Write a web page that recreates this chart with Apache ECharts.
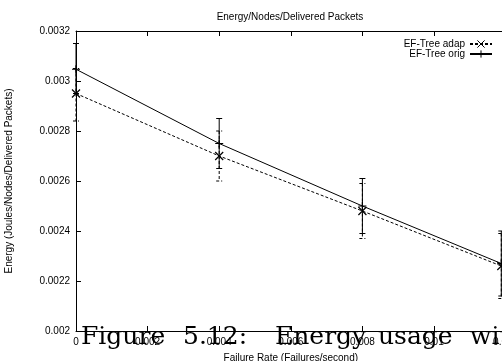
<!DOCTYPE html>
<html>
<head>
<meta charset="utf-8">
<script src="https://cdn.jsdelivr.net/npm/echarts@6/dist/echarts.min.js"></script>
<style>
  html, body { margin: 0; padding: 0; background: #fff; }
  #chart { width: 502px; height: 361px; }
</style>
</head>
<body>
<div id="chart"></div>
<script>
// Failure rates (failures/second) at which the runs were made
const failureRate = [0, 0.004, 0.008, 0.01188];

// EF-Tree adaptive: mean energy and error-bar bounds
const adapEnergy = [0.00295, 0.0027, 0.00248, 0.00226];
const adapLow    = [0.00284, 0.0026, 0.00237, 0.00213];
const adapHigh   = [0.00305, 0.0028, 0.00259, 0.00239];

// EF-Tree original: mean energy and error-bar bounds
const origEnergy = [0.003047, 0.00275, 0.0025, 0.00227];
const origLow    = [0.00295, 0.00265, 0.00239, 0.00214];
const origHigh   = [0.00315, 0.00285, 0.00261, 0.0024];

// Axis ticks
const xTicks = [0, 0.002, 0.004, 0.006, 0.008, 0.01, 0.012];
const yTicks = [0.002, 0.0022, 0.0024, 0.0026, 0.0028, 0.003, 0.0032];

const seriesNames = ['EF-Tree adap', 'EF-Tree orig'];
const chartTitle = 'Energy/Nodes/Delivered Packets';
const xTitle = 'Failure Rate (Failures/second)';
const yTitle = 'Energy (Joules/Nodes/Delivered Packets)';
const captionWords = ['Figure', '5.12:', 'Energy', 'usage', 'wit'];
const captionLefts = [81, 183, 275, 378, 470];

const SANS = '"Liberation Sans", Arial, sans-serif';
const CROSS = 'path://M0,0L10,10M10,0L0,10';
const PLUS = 'path://M5,0L5,10M0,5L10,5';

function fmt(v) { return String(parseFloat(v.toFixed(5))); }

// Vertical error bar with short caps at both ends
function errorBars(dashed) {
  return function (params, api) {
    const x = api.value(0);
    const top = api.coord([x, api.value(2)]);
    const bot = api.coord([x, api.value(1)]);
    const style = { stroke: '#000', lineWidth: 1, lineDash: dashed ? [3, 2] : null };
    const cap = 3;
    return {
      type: 'group',
      children: [
        { type: 'line', shape: { x1: top[0], y1: top[1], x2: bot[0], y2: bot[1] }, style },
        { type: 'line', shape: { x1: top[0] - cap, y1: top[1], x2: top[0] + cap, y2: top[1] }, style },
        { type: 'line', shape: { x1: bot[0] - cap, y1: bot[1], x2: bot[0] + cap, y2: bot[1] }, style }
      ]
    };
  };
}

const chart = echarts.init(document.getElementById('chart'), null, { renderer: 'canvas' });

const axisCommon = {
  type: 'value',
  splitLine: { show: false },
  axisLine: { show: true, onZero: false, lineStyle: { color: '#000', width: 1 } },
  axisTick: { show: true, inside: true, length: 5, lineStyle: { color: '#000' } }
};

const option = {
  animation: false,
  backgroundColor: '#fff',
  grid: { left: 76, top: 31, right: -3.6, bottom: 30, containLabel: false, outerBoundsMode: 'none' },
  xAxis: [
    Object.assign({}, axisCommon, {
      min: xTicks[0], max: xTicks[xTicks.length - 1], interval: xTicks[1] - xTicks[0],
      position: 'bottom',
      name: xTitle, nameLocation: 'middle', nameGap: 22,
      nameTextStyle: { fontFamily: SANS, fontSize: 10, color: '#000' },
      axisLabel: { fontFamily: SANS, fontSize: 10, color: '#000', margin: 6, formatter: fmt }
    }),
    Object.assign({}, axisCommon, {
      min: xTicks[0], max: xTicks[xTicks.length - 1], interval: xTicks[1] - xTicks[0],
      position: 'top',
      axisLabel: { show: false }
    })
  ],
  yAxis: [
    Object.assign({}, axisCommon, {
      min: yTicks[0], max: yTicks[yTicks.length - 1], interval: yTicks[1] - yTicks[0],
      position: 'left',
      name: yTitle, nameLocation: 'middle', nameGap: 62,
      nameTextStyle: { fontFamily: SANS, fontSize: 10, color: '#000' },
      axisLabel: { fontFamily: SANS, fontSize: 10, color: '#000', margin: 6, formatter: fmt }
    })
  ],
  legend: {
    orient: 'vertical',
    right: 9,
    top: 39,
    align: 'right',
    itemWidth: 22,
    itemHeight: 9,
    itemGap: 0,
    padding: 0,
    textStyle: { fontFamily: SANS, fontSize: 10, color: '#000', lineHeight: 9 },
    itemStyle: { borderWidth: 1 },
    data: seriesNames
  },
  graphic: [
    {
      type: 'text', x: 290, y: 17, z: 10,
      style: { text: chartTitle, font: '10px ' + SANS, fill: '#000',
               align: 'center', verticalAlign: 'middle', textAlign: 'center', textVerticalAlign: 'middle' }
    }
  ].concat(captionWords.map(function (w, i) {
    return {
      type: 'text', x: captionLefts[i], y: 337, z: 20,
      style: { text: w, font: '25px "DejaVu Serif", serif', fill: '#000',
               align: 'left', verticalAlign: 'middle', textAlign: 'left', textVerticalAlign: 'middle' }
    };
  })),
  series: [
    {
      name: seriesNames[0], type: 'line',
      data: failureRate.map((x, i) => [x, adapEnergy[i]]),
      symbol: CROSS, symbolSize: 8,
      lineStyle: { color: '#000', width: 1, type: [3, 2] },
      itemStyle: { color: '#000', borderColor: '#000', borderWidth: 1.2 },
      z: 3
    },
    {
      name: seriesNames[1], type: 'line',
      data: failureRate.map((x, i) => [x, origEnergy[i]]),
      symbol: PLUS, symbolSize: 8,
      lineStyle: { color: '#000', width: 1, type: 'solid' },
      itemStyle: { color: '#000', borderColor: '#000', borderWidth: 1.2 },
      z: 3
    },
    {
      type: 'custom',
      data: failureRate.map((x, i) => [x, adapLow[i], adapHigh[i]]),
      encode: { x: 0, y: [1, 2] },
      renderItem: errorBars(true),
      clip: false, silent: true, z: 2
    },
    {
      type: 'custom',
      data: failureRate.map((x, i) => [x, origLow[i], origHigh[i]]),
      encode: { x: 0, y: [1, 2] },
      renderItem: errorBars(false),
      clip: false, silent: true, z: 2
    }
  ]
};

chart.setOption(option);
</script>
</body>
</html>
